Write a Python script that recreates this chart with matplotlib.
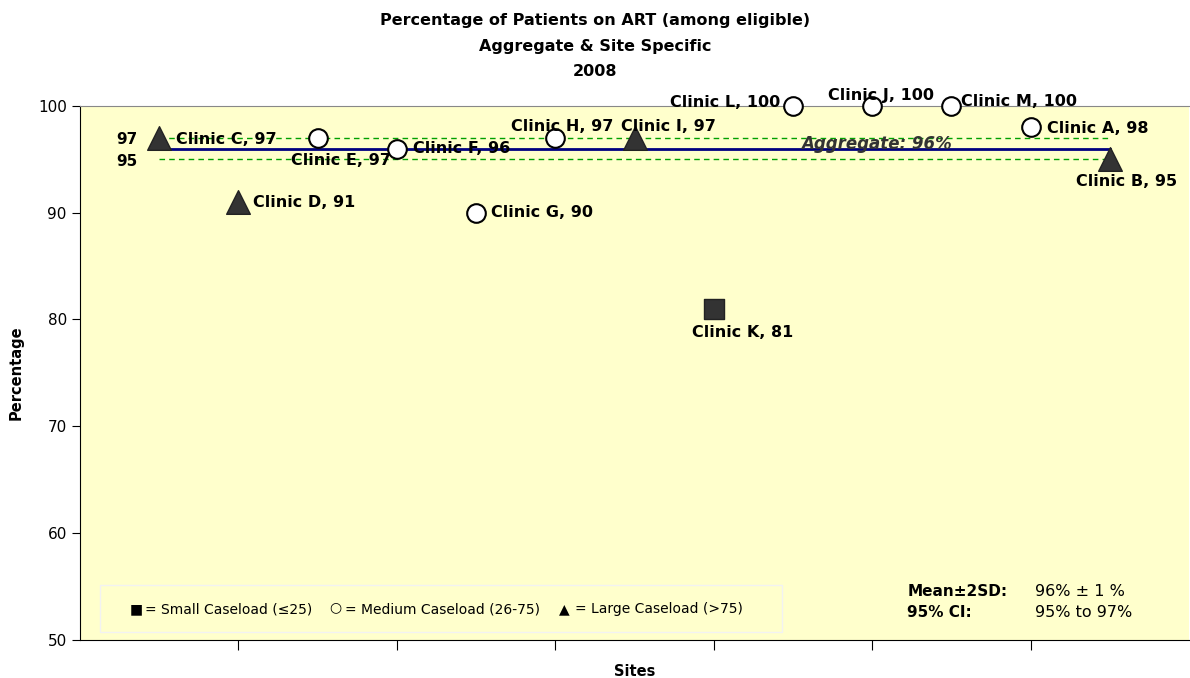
import matplotlib.pyplot as plt

plt.rcParams['font.family'] = ['DejaVu Sans']

# dados
clinics = ['C', 'D', 'E', 'F', 'G', 'H', 'I', 'K', 'L', 'J', 'M', 'A', 'B']
values = [97, 91, 97, 96, 90, 97, 97, 81, 100, 100, 100, 98, 95]
caseload = ['large', 'large', 'medium', 'medium', 'medium', 'medium', 'large',
            'small', 'medium', 'medium', 'medium', 'medium', 'large']
aggregate = 96
ci_low, ci_high = 95, 97
yticks = [50, 60, 70, 80, 90, 100]

xpos = [0.5 + 0.5 * i for i in range(len(clinics))]

fig = plt.figure(figsize=(11.9, 6.78), dpi=100)
ax = fig.add_axes([0.0672, 0.056, 0.932, 0.788])
ax.set_facecolor('#FFFFCC')

# linhas de referência
ax.plot([xpos[0], xpos[-1]], [aggregate, aggregate], color='#000080', lw=2, zorder=2)
ax.plot([xpos[0], xpos[-1]], [ci_high, ci_high], color='#00A000', lw=1, ls=(0, (4, 3)), zorder=2)
ax.plot([xpos[0], xpos[-1]], [ci_low, ci_low], color='#00A000', lw=1, ls=(0, (4, 3)), zorder=2)
ax.text(0.36, ci_high - 0.15, str(ci_high), ha='right', va='center', fontsize=11, fontweight='bold')
ax.text(0.36, ci_low - 0.25, str(ci_low), ha='right', va='center', fontsize=11, fontweight='bold')
ax.text(5.03, aggregate + 0.45, 'Aggregate: 96%', ha='center', va='center', fontsize=12,
        fontweight='bold', style='italic', color='#333333', zorder=3)

# marcadores
estilos = {
    'small': dict(marker='s', s=190, color='#333333', edgecolor='#222222'),
    'medium': dict(marker='o', s=180, color='white', edgecolor='black', linewidth=1.5),
    'large': dict(marker='^', s=290, color='#333333', edgecolor='#222222'),
}
for x, v, c in zip(xpos, values, caseload):
    ax.scatter([x], [v], zorder=4, clip_on=False, **estilos[c])

# posição dos rótulos (dx, dy em pixels, ha)
offsets = {
    'C': (17, -2, 'left'),
    'D': (15, -1, 'left'),
    'E': (23, -23, 'center'),
    'F': (16, 0, 'left'),
    'G': (15, 0, 'left'),
    'H': (7, 11, 'center'),
    'I': (-14, 11, 'left'),
    'K': (29, -24, 'center'),
    'L': (-13, 3, 'right'),
    'J': (9, 10, 'center'),
    'M': (10, 4, 'left'),
    'A': (16, -1, 'left'),
    'B': (17, -22, 'center'),
}
for x, v, c in zip(xpos, values, clinics):
    dx, dy, ha = offsets[c]
    ax.annotate(f'Clinic {c}, {v}', (x, v), xytext=(dx, dy), textcoords='offset pixels',
                ha=ha, va='center', fontsize=11.5, fontweight='bold', zorder=5, annotation_clip=False)

# legenda e estatísticas
ax.add_patch(plt.Rectangle((0.018, 0.015), 0.615, 0.088, transform=ax.transAxes,
                           facecolor='#FFFFCC', edgecolor='#F2F2F2', lw=1, zorder=1))
leg_y = 0.058
ax.text(0.045, leg_y, '■', transform=ax.transAxes, ha='left', va='center', fontsize=10)
ax.text(0.059, leg_y, '= Small Caseload (≤25)', transform=ax.transAxes, ha='left', va='center', fontsize=10)
ax.text(0.225, leg_y + 0.004, '○', transform=ax.transAxes, ha='left', va='center', fontsize=10)
ax.text(0.239, leg_y, '= Medium Caseload (26-75)', transform=ax.transAxes, ha='left', va='center', fontsize=10)
ax.text(0.432, leg_y, '▲', transform=ax.transAxes, ha='left', va='center', fontsize=10)
ax.text(0.446, leg_y, '= Large Caseload (>75)', transform=ax.transAxes, ha='left', va='center', fontsize=10)

ax.text(0.746, 0.091, 'Mean±2SD:', transform=ax.transAxes, fontsize=11, fontweight='bold', va='center')
ax.text(0.746, 0.051, '95% CI:', transform=ax.transAxes, fontsize=11, fontweight='bold', va='center')
ax.text(0.861, 0.091, '96% ± 1 %', transform=ax.transAxes, fontsize=11.5, va='center')
ax.text(0.861, 0.051, '95% to 97%', transform=ax.transAxes, fontsize=11.5, va='center')

ax.set_xlim(0, 7)
ax.set_ylim(50, 100)
ax.set_yticks(yticks)
ax.set_xticks([1, 2, 3, 4, 5, 6])
ax.set_xticklabels([])
ax.tick_params(axis='both', direction='out', length=6, labelsize=11)
ax.tick_params(axis='x', length=7)
ax.spines['top'].set_color('#888888')
ax.spines['right'].set_visible(False)
ax.set_ylabel('Percentage', fontsize=10.5, fontweight='bold', labelpad=10)
fig.text(0.0672 + 0.932 / 2, 1 - 672 / 678, 'Sites', ha='center', va='center',
         fontsize=10.5, fontweight='bold')

# título em três linhas
title_lines = ['Percentage of Patients on ART (among eligible)', 'Aggregate & Site Specific', '2008']
for i, linha in enumerate(title_lines):
    fig.text(0.5, 1 - (20 + 26 * i) / 678, linha, ha='center', va='center',
             fontsize=11.5, fontweight='bold')

fig.savefig('out.png', dpi=100)
